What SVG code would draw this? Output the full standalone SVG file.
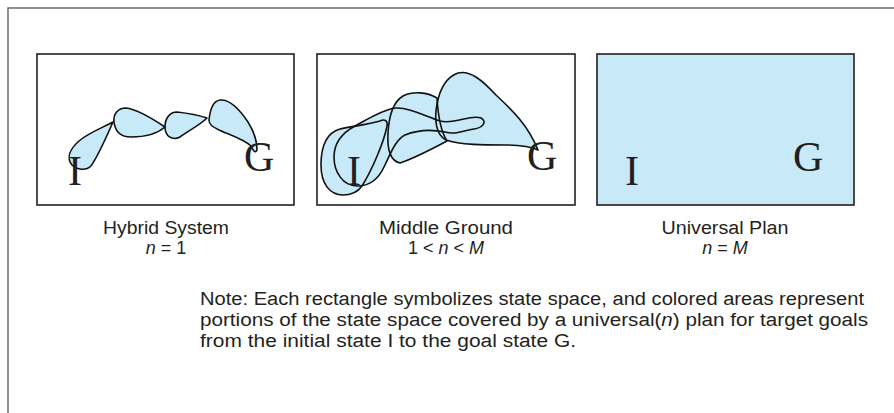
<svg xmlns="http://www.w3.org/2000/svg" width="894" height="413" viewBox="0 0 894 413">
<style>
.frame{fill:none;stroke:#6d6e71;stroke-width:1.5}
.box{fill:#fff;stroke:#231f20;stroke-width:1.6}
.boxf{fill:#c7e9f8;stroke:#231f20;stroke-width:1.6}
.bf{fill:#c7e9f8;stroke:none}
.bs{fill:none;stroke:#111;stroke-width:1.6;stroke-linejoin:round}
.big{font-family:"Liberation Serif","Times New Roman",serif;font-size:42px;fill:#231f20}
.lbl{font-family:"Liberation Sans",Arial,sans-serif;font-size:18px;fill:#231f20;text-anchor:middle}
.note{font-family:"Liberation Sans",Arial,sans-serif;font-size:18px;fill:#231f20}
.it{font-style:italic}
</style>
<defs>
<path id="a1" d="M 113,122 C 104,127 88,133 79,141 C 70,149 66,158 72,165 C 77,170 86,171 91,166 C 98,156 106,138 113,122 Z"/>
<path id="b1" d="M 114,122 C 113,114 118,108 126,108 C 136,109 150,117 165,127 C 158,133 146,137 131,137 C 119,137 115,130 114,122 Z"/>
<path id="c1" d="M 165,127 C 165,118 170,112 177,112 C 186,113 198,115 207,118 C 200,125 188,131 180,137 C 172,141 165,136 165,127 Z"/>
<path id="d1" d="M 209,120 C 210,110 213,101 220,100 C 230,99 240,110 248,122 C 253,130 257,140 257,150 C 255,154 253,150 251,146 C 243,139 230,135 219,130 C 213,127 209,125 209,120 Z"/>
<path id="r2" d="M 538,150 C 532,147 520,145 505,145 C 485,145 460,145 446,140 C 436,135 434,120 437,104 C 440,88 447,77 458,73 C 470,70 482,80 496,95 C 512,110 528,125 538,150 Z"/>
<path id="q2" d="M 400,163 C 391,161 387,150 388,133 C 389,115 393,102 403,96 C 413,91 427,92 437,98 C 438,115 440,130 447,141 C 432,149 415,158 400,163 Z"/>
<path id="s2" d="M 334,157 C 334,143 342,133 355,126 C 368,119 382,110 395,108 C 408,107 425,116 440,121 C 455,125 470,114 481,118 C 488,122 482,128 474,129 C 462,131 455,135 445,132 C 430,129 415,131 405,135 C 395,140 390,155 384,167 C 378,180 368,186 357,186 C 343,186 334,172 334,157 Z"/>
<path id="p2" d="M 343,195 C 330,195 321,184 321,165 C 321,146 326,133 340,129 C 355,126 370,124 380,121 C 384,119 388,120 387,126 C 384,142 372,170 362,186 C 357,193 350,195 343,195 Z"/>
</defs>
<path class="frame" d="M 8,413 L 8,8 L 894,8"/>
<g id="hybrid">
<rect class="box" x="37" y="54" width="257" height="151"/>
<use href="#a1" class="bf"/><use href="#b1" class="bf"/><use href="#c1" class="bf"/><use href="#d1" class="bf"/>
<use href="#a1" class="bs"/><use href="#b1" class="bs"/><use href="#c1" class="bs"/><use href="#d1" class="bs"/>
<text class="big" x="68" y="185">I</text>
<text class="big" x="244" y="171">G</text>
<text class="lbl" x="166" y="234" textLength="126" lengthAdjust="spacingAndGlyphs">Hybrid System</text>
<text class="lbl" x="166" y="254"><tspan class="it">n</tspan> = 1</text>
</g>
<g id="middle">
<rect class="box" x="317" y="54" width="258" height="151"/>
<use href="#p2" class="bf"/><use href="#s2" class="bf"/><use href="#q2" class="bf"/><use href="#r2" class="bf"/>
<use href="#p2" class="bs"/><use href="#s2" class="bs"/><use href="#q2" class="bs"/><use href="#r2" class="bs"/>
<text class="big" x="347" y="185">I</text>
<text class="big" x="527" y="170">G</text>
<text class="lbl" x="446" y="234" textLength="134" lengthAdjust="spacingAndGlyphs">Middle Ground</text>
<text class="lbl" x="446" y="254">1 &lt; <tspan class="it">n</tspan> &lt; <tspan class="it">M</tspan></text>
</g>
<g id="universal">
<rect class="boxf" x="597" y="54" width="257" height="151"/>
<text class="big" x="625" y="185">I</text>
<text class="big" x="793" y="171">G</text>
<text class="lbl" x="725" y="234" textLength="127" lengthAdjust="spacingAndGlyphs">Universal Plan</text>
<text class="lbl" x="725" y="254"><tspan class="it">n</tspan> = <tspan class="it">M</tspan></text>
</g>
<g id="note">
<text class="note" x="200" y="305" textLength="664" lengthAdjust="spacingAndGlyphs">Note: Each rectangle symbolizes state space, and colored areas represent</text>
<text class="note" x="200" y="326" textLength="668" lengthAdjust="spacingAndGlyphs">portions of the state space covered by a universal(<tspan class="it">n</tspan>) plan for target goals</text>
<text class="note" x="200" y="347" textLength="376" lengthAdjust="spacingAndGlyphs">from the initial state I to the goal state G.</text>
</g>
<g id="connectors"/>
</svg>
